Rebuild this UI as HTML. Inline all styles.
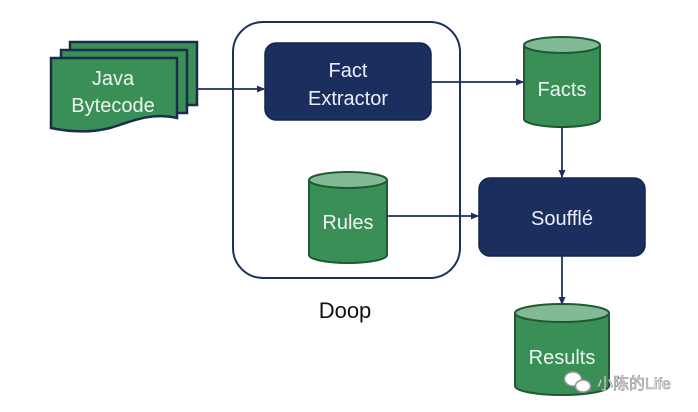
<!DOCTYPE html>
<html><head><meta charset="utf-8"><style>
html,body{margin:0;padding:0;background:#fff;}
svg{display:block;}
text{font-family:"Liberation Sans","Noto Sans CJK SC",sans-serif;}
</style></head><body>
<svg width="698" height="412" viewBox="0 0 698 412" xmlns="http://www.w3.org/2000/svg">
<defs>
<marker id="a" markerWidth="8" markerHeight="8" refX="7" refY="4" orient="auto" markerUnits="userSpaceOnUse">
<path d="M0,0.5 L8,4 L0,7.5 Z" fill="#1e3060"/></marker>
</defs>
<rect x="0" y="0" width="698" height="412" fill="#fff"/>
<rect x="233" y="22" width="227" height="256" rx="30" fill="none" stroke="#1e3060" stroke-width="2"/>
<text x="345" y="318" font-size="22" text-anchor="middle" fill="#111">Doop</text>
<rect x="70" y="42" width="127" height="63" fill="#3a8f57" stroke="#1a2c4e" stroke-width="2.5"/>
<rect x="61" y="50" width="126" height="63" fill="#3a8f57" stroke="#1a2c4e" stroke-width="2.5"/>
<path d="M51,58 H177 V118 C150,112 130,122 110,128 C90,133 70,132 51,128 Z" fill="#3a8f57" stroke="#1a2c4e" stroke-width="2.5"/>
<text x="113" y="85" font-size="20" text-anchor="middle" fill="#eef5ee">Java</text>
<text x="113" y="112" font-size="20" text-anchor="middle" fill="#eef5ee">Bytecode</text>
<rect x="265" y="43" width="166" height="77" rx="11" fill="#1a2f5e" stroke="#14264d" stroke-width="1.5"/>
<text x="348" y="77" font-size="20" text-anchor="middle" fill="#eef">Fact</text>
<text x="348" y="105" font-size="20" text-anchor="middle" fill="#eef">Extractor</text>
<rect x="479" y="178" width="166" height="78" rx="11" fill="#1a2f5e" stroke="#14264d" stroke-width="1.5"/>
<text x="562" y="225" font-size="20" text-anchor="middle" fill="#eef">Soufflé</text>
<g stroke="#1f5a35" stroke-width="2">
<path d="M309,180 V255 A39,8 0 0 0 387,255 V180" fill="#3a8f57"/>
<ellipse cx="348" cy="180" rx="39" ry="8" fill="#82ba96"/>
<path d="M524,45 V119 A38,8 0 0 0 600,119 V45" fill="#3a8f57"/>
<ellipse cx="562" cy="45" rx="38" ry="8" fill="#82ba96"/>
<path d="M515,313 V386 A47,9 0 0 0 609,386 V313" fill="#3a8f57"/>
<ellipse cx="562" cy="313" rx="47" ry="9" fill="#82ba96"/>
</g>
<text x="348" y="229" font-size="20" text-anchor="middle" fill="#eef5ee">Rules</text>
<text x="562" y="96" font-size="20" text-anchor="middle" fill="#eef5ee">Facts</text>
<text x="562" y="364" font-size="20" text-anchor="middle" fill="#eef5ee">Results</text>
<g stroke="#1e3060" stroke-width="1.8" fill="none" marker-end="url(#a)">
<line x1="197" y1="89" x2="264" y2="89"/>
<line x1="431" y1="82" x2="523" y2="82"/>
<line x1="562" y1="127" x2="562" y2="177"/>
<line x1="387" y1="216" x2="478" y2="216"/>
<line x1="562" y1="256" x2="562" y2="304"/>
</g>
<g>
<ellipse cx="573" cy="379" rx="8.5" ry="7" fill="#fff" stroke="#999" stroke-width="1.5"/>
<ellipse cx="583" cy="386" rx="7.5" ry="6" fill="#fff" stroke="#999" stroke-width="1.5"/>
<text x="597" y="389" font-size="16" fill="#f4f4f4" stroke="#888" stroke-width="0.6">小陈的Life</text>
</g>
</svg>
</body></html>
